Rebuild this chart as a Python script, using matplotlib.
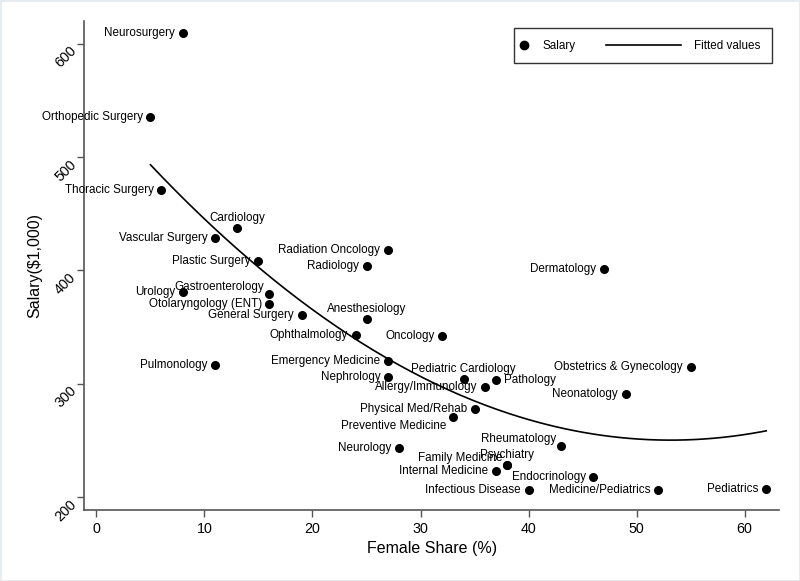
import matplotlib.pyplot as plt
import numpy as np
from matplotlib.lines import Line2D
from matplotlib.legend_handler import HandlerLine2D

plt.rcParams['font.family'] = ['Liberation Sans', 'DejaVu Sans']

specialty = ["Neurosurgery", "Orthopedic Surgery", "Thoracic Surgery", "Cardiology",
             "Vascular Surgery", "Plastic Surgery", "Radiation Oncology", "Radiology",
             "Dermatology", "Gastroenterology", "Urology", "Otolaryngology (ENT)",
             "General Surgery", "Anesthesiology", "Ophthalmology", "Oncology",
             "Pulmonology", "Emergency Medicine", "Nephrology", "Pediatric Cardiology",
             "Pathology", "Allergy/Immunology", "Obstetrics & Gynecology", "Neonatology",
             "Physical Med/Rehab", "Preventive Medicine", "Neurology", "Rheumatology",
             "Family Medicine", "Psychiatry", "Internal Medicine", "Endocrinology",
             "Infectious Disease", "Medicine/Pediatrics", "Pediatrics"]
female_share = [8, 5, 6, 13, 11, 15, 27, 25, 47, 16, 8, 16, 19, 25, 24, 32, 11, 27, 27,
                34, 37, 36, 55, 49, 35, 33, 28, 43, 38, 38, 37, 46, 40, 52, 62]
salary = [609, 535, 471, 437, 429, 408, 418, 404, 401, 379, 381, 370, 361, 357, 343, 342,
          317, 320, 306, 304, 303, 297, 315, 291, 278, 271, 243, 245, 228, 228, 223, 218,
          206, 206, 207]
# label clock positions (stata style), 9 = left
label_pos = {"Cardiology": 12, "Gastroenterology": 11, "Anesthesiology": 12,
             "Pediatric Cardiology": 12, "Pathology": 3, "Preventive Medicine": 7,
             "Rheumatology": 11, "Family Medicine": 11, "Psychiatry": 12}

x = np.array(female_share, dtype=float)
y = np.array(salary, dtype=float)

# quadratic fit
coef = np.polyfit(x, y, 2)
xf = np.linspace(x.min(), x.max(), 200)
yf = np.polyval(coef, xf)


class ShiftHandler(HandlerLine2D):
    # put the handle at fixed x offsets (points) from the handle start
    def __init__(self, xs, **kw):
        super().__init__(**kw)
        self.xs = xs

    def get_xdata(self, legend, xdescent, ydescent, width, height, fontsize):
        xd = -xdescent + np.array(self.xs, dtype=float)
        return xd, xd[:1]


fig = plt.figure(figsize=(8, 5.81), dpi=100)
fig.patch.set_edgecolor('#e6ecef')
fig.patch.set_linewidth(2)
ax = fig.add_axes([0.105, 0.1227, 0.869, 0.8412])

ax.scatter(x, y, s=30, color='black', zorder=3)
ax.plot(xf, yf, color='black', lw=1.2)

offsets = {9: ((-5.5, 0), 'right', 'center'),
           12: ((0, 7.5), 'center', 'center'),
           11: ((-3.5, 5.5), 'right', 'center'),
           3: ((5.5, 0), 'left', 'center'),
           7: ((-5, -6.5), 'right', 'center')}
for name, xi, yi in zip(specialty, x, y):
    off, ha, va = offsets[label_pos.get(name, 9)]
    ax.annotate(name, (xi, yi), xytext=off, textcoords='offset points',
                ha=ha, va=va, fontsize=8.4)

ax.set_xlim(-1.15, 63.2)
ax.set_ylim(189, 620)
ax.set_xticks([0, 10, 20, 30, 40, 50, 60])
ax.set_yticks([200, 300, 400, 500, 600])
for s in ['top', 'right']:
    ax.spines[s].set_visible(False)
for s in ['left', 'bottom']:
    ax.spines[s].set_color('#555555')
    ax.spines[s].set_linewidth(1.2)
ax.tick_params(length=5.3, width=1.0, color='#555555', labelsize=10.3)
ax.tick_params(axis='y', pad=5.5)
plt.setp(ax.get_yticklabels(), rotation=45, ha='right', va='top', rotation_mode='anchor')
ax.set_xlabel("Female Share (%)", fontsize=11.5, labelpad=4)
ax.set_ylabel(r"Salary(\$1,000)", fontsize=11.5, labelpad=7.5)

h_dot = Line2D([], [], marker='o', ls='', color='black', markersize=6)
h_fit = Line2D([], [], color='black', lw=1.2)
leg = ax.legend([h_dot, h_fit], ['Salary', 'Fitted values'], loc='upper right',
                ncol=2, fontsize=8.4, frameon=True, fancybox=False, edgecolor='black',
                handlelength=1.0, handletextpad=0.45, columnspacing=8.7, borderpad=1.0,
                borderaxespad=0, bbox_to_anchor=(0.99, 0.9857),
                handler_map={h_dot: ShiftHandler([-1.5]),
                             h_fit: ShiftHandler([-51.2, 2.8])})
leg.get_frame().set_linewidth(1.0)

plt.savefig('out.png', dpi=100)
